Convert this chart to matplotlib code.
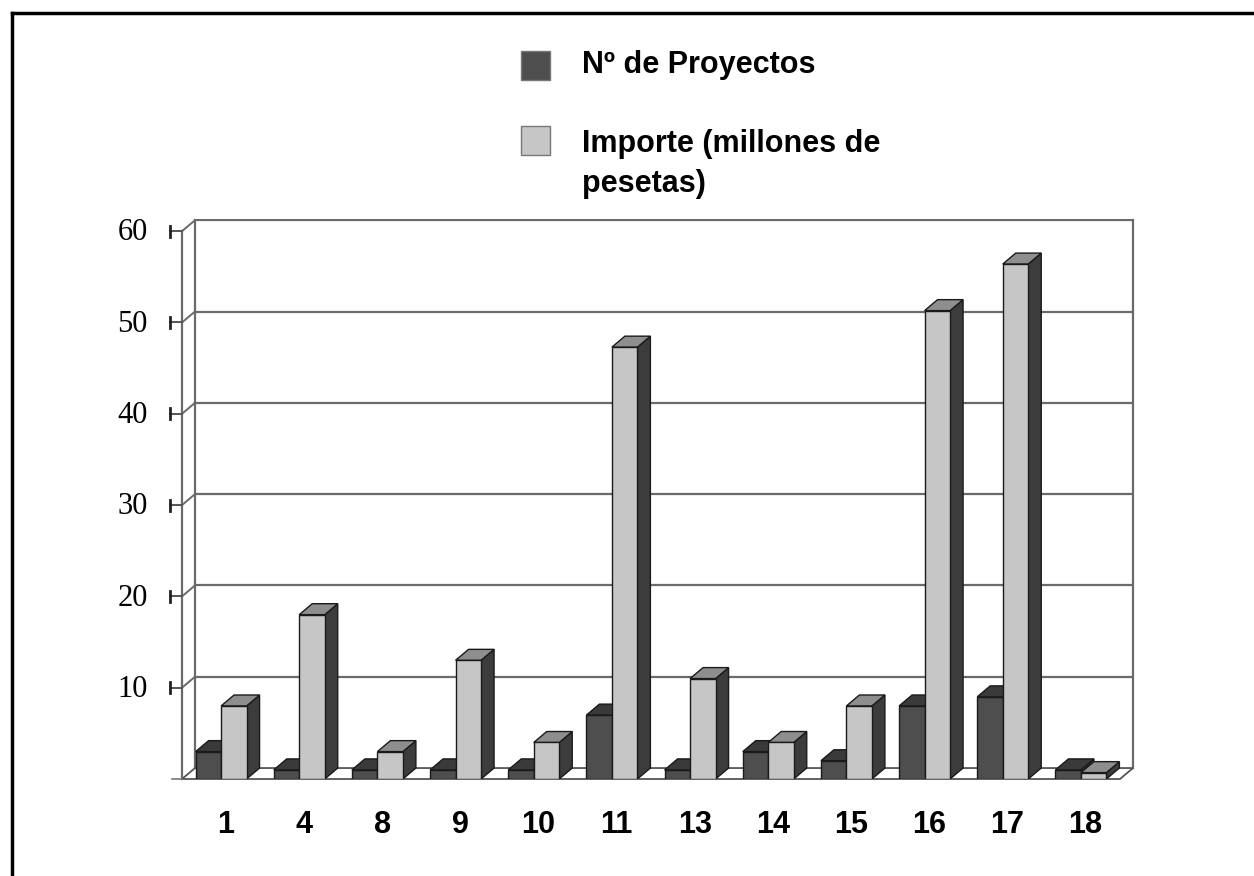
import matplotlib
matplotlib.use("Agg")
import matplotlib.pyplot as plt
from matplotlib.patches import Polygon, Rectangle
from matplotlib.lines import Line2D

categories = ["1", "4", "8", "9", "10", "11", "13", "14", "15", "16", "17", "18"]
proyectos = [3, 1, 1, 1, 1, 7, 1, 3, 2, 8, 9, 1]
importe = [8, 18, 3, 13, 4, 47.3, 11, 4, 8, 51.3, 56.4, 0.7]
yticks = [10, 20, 30, 40, 50, 60]
series_names = ["Nº de Proyectos", "Importe (millones de\npesetas)"]

W, H = 1254, 876
fig = plt.figure(figsize=(W / 100, H / 100), dpi=100)
fig.patch.set_facecolor("white")

# axes area: front axis x=182 to right wall x=1133, front zero y=779
ax = fig.add_axes([182 / W, 1 - 779 / H, (1133 - 182) / W, (779 - 219.3) / H])
ax.set_axis_off()
n = len(categories)
DX = 13 / 78.2          # depth in x units
DY = 1.2                # depth in y units
BW = 0.326              # bar width
ax.set_xlim(-0.5, n - 0.5 + DX)
ax.set_ylim(0, 61.3)

grid_c = "#6a6a6a"
# back wall gridlines
for v in yticks:
    ax.add_line(Line2D([-0.5 + DX, n - 0.5 + DX], [v + DY, v + DY], color=grid_c, lw=1.6, zorder=1))
    ax.add_line(Line2D([-0.5, -0.5 + DX], [v, v + DY], color=grid_c, lw=1.4, zorder=1, clip_on=False))
    # tick "I" marks and stubs
    ax.add_line(Line2D([-0.653, -0.5], [v, v], color="#555555", lw=1.4, clip_on=False))
    ax.add_line(Line2D([-0.653, -0.653], [v - 0.6, v + 0.6], color="#222222", lw=2.0, clip_on=False))
    ax.text(-0.94, v - 0.2, str(v), ha="right", va="center", fontsize=22,
            family="Liberation Serif", clip_on=False)

# walls
ax.add_line(Line2D([-0.5, -0.5], [0, 60], color=grid_c, lw=1.6, zorder=1, clip_on=False))
ax.add_line(Line2D([-0.5 + DX, -0.5 + DX], [DY, 60 + DY], color=grid_c, lw=1.6, zorder=1, clip_on=False))
ax.add_line(Line2D([n - 0.5 + DX, n - 0.5 + DX], [DY, 60 + DY], color=grid_c, lw=1.6, zorder=1, clip_on=False))
# floor
floor = Polygon([(-0.5, 0), (n - 0.5, 0), (n - 0.5 + DX, DY), (-0.5 + DX, DY)], closed=True,
                facecolor="white", edgecolor="#555555", lw=1.3, zorder=1.5, clip_on=False)
ax.add_patch(floor)
ax.add_line(Line2D([-0.63, -0.5], [0, 0], color="#777777", lw=1.2, clip_on=False))

dark_front, dark_top, dark_side = "#4e4e4e", "#3a3a3a", "#333333"
light_front, light_top, light_side = "#c6c6c6", "#8e8e8e", "#3c3c3c"


def bar3d(x0, x1, h, fc, tc, sc, z):
    ax.bar([x0], [h], width=x1 - x0, align="edge", color=fc, edgecolor="#1a1a1a", lw=1.0, zorder=z + 0.2)
    top = Polygon([(x0, h), (x1, h), (x1 + DX, h + DY), (x0 + DX, h + DY)], closed=True,
                  facecolor=tc, edgecolor="#1a1a1a", lw=1.0, zorder=z + 0.1)
    side = Polygon([(x1, 0), (x1 + DX, DY), (x1 + DX, h + DY), (x1, h)], closed=True,
                   facecolor=sc, edgecolor="#1a1a1a", lw=1.0, zorder=z)
    ax.add_patch(side)
    ax.add_patch(top)


for i in range(n):
    bar3d(i - BW, i, proyectos[i], dark_front, dark_top, dark_side, 3)
    bar3d(i, i + BW, importe[i], light_front, light_top, light_side, 4)
    ax.text(i + 0.06, -5.0, categories[i], ha="center", va="center", fontsize=22,
            fontweight="bold", family="Liberation Sans", clip_on=False)

# legend
fig.patches.append(Rectangle((521 / W, 1 - 80 / H), 29 / W, 29 / H, transform=fig.transFigure,
                             facecolor=dark_front, edgecolor="#777777", lw=1))
fig.patches.append(Rectangle((521 / W, 1 - 155 / H), 29 / W, 29 / H, transform=fig.transFigure,
                             facecolor=light_front, edgecolor="#777777", lw=1))
fig.text(582 / W, 1 - 65 / H, series_names[0], ha="left", va="center", fontsize=22,
         fontweight="bold", family="Liberation Sans")
fig.text(582 / W, 1 - 164 / H, series_names[1], ha="left", va="center", fontsize=22,
         fontweight="bold", family="Liberation Sans", linespacing=1.45)

# page border (top and left)
fig.add_artist(Line2D([12 / W, 1], [1 - 13 / H, 1 - 13 / H], transform=fig.transFigure, color="black", lw=2.5))
fig.add_artist(Line2D([12 / W, 12 / W], [0, 1 - 13 / H], transform=fig.transFigure, color="black", lw=2.5))

fig.savefig("out.png", dpi=100, facecolor="white")
